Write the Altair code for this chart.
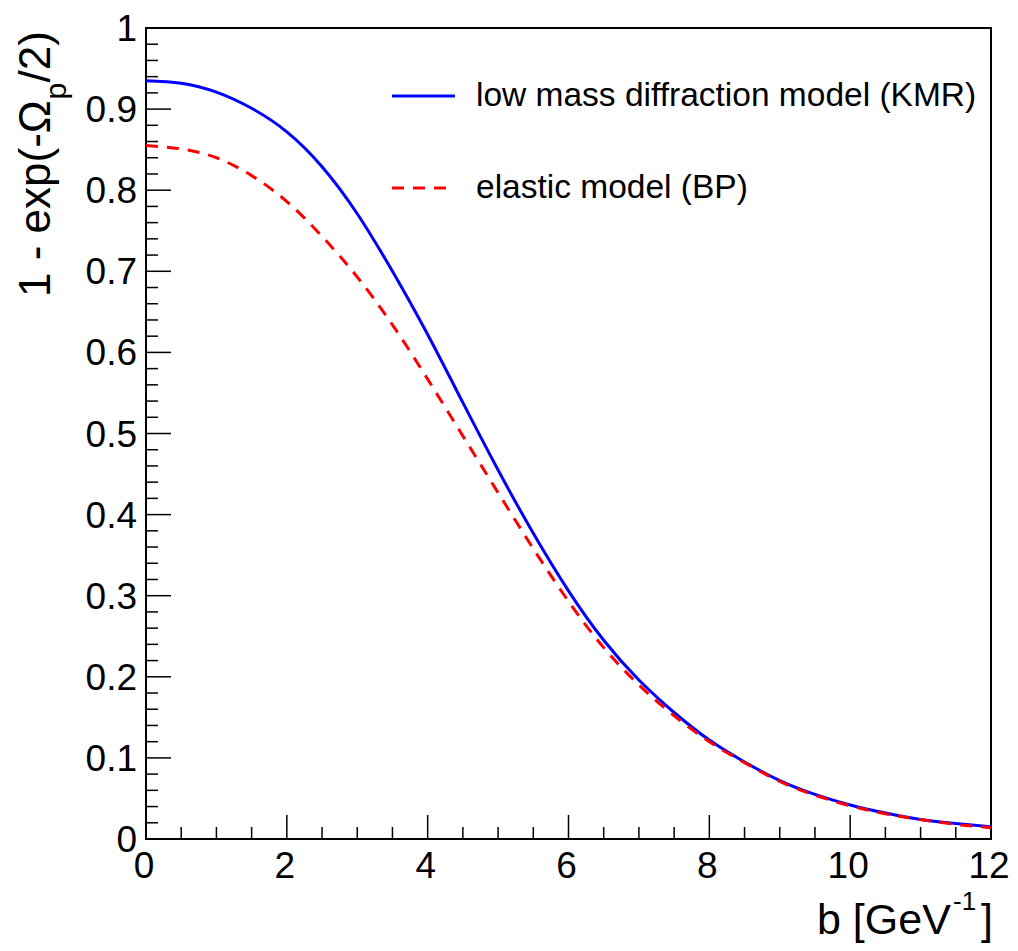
import altair as alt
import pandas as pd

# ---- data ----
b_vals = [0, 0.5, 1, 1.5, 2, 2.5, 3, 3.5, 4, 4.5, 5, 5.5, 6, 6.5, 7, 7.5, 8,
          8.5, 9, 9.5, 10, 10.5, 11, 11.5, 12]
kmr = [0.935, 0.932, 0.921, 0.901, 0.872, 0.829, 0.771, 0.700, 0.622, 0.538,
       0.455, 0.377, 0.306, 0.245, 0.196, 0.156, 0.122, 0.095, 0.072, 0.055,
       0.042, 0.032, 0.024, 0.019, 0.015]
bp = [0.855, 0.851, 0.840, 0.818, 0.786, 0.743, 0.693, 0.634, 0.567, 0.497,
      0.427, 0.358, 0.293, 0.236, 0.190, 0.152, 0.120, 0.094, 0.071, 0.054,
      0.041, 0.031, 0.024, 0.018, 0.014]

x_major = [0, 2, 4, 6, 8, 10, 12]
x_major_labels = ["0", "2", "4", "6", "8", "10", "12"]
x_minor = [0.5, 1, 1.5, 2.5, 3, 3.5, 4.5, 5, 5.5, 6.5, 7, 7.5, 8.5, 9, 9.5,
           10.5, 11, 11.5]
y_major = [0, 0.1, 0.2, 0.3, 0.4, 0.5, 0.6, 0.7, 0.8, 0.9, 1]
y_major_labels = ["0", "0.1", "0.2", "0.3", "0.4", "0.5", "0.6", "0.7",
                  "0.8", "0.9", "1"]
y_minor = [round(0.02 * i, 2) for i in range(1, 50) if i % 5 != 0]

legend_labels = ["low mass diffraction model (KMR)", "elastic model (BP)"]

W, H = 845, 811
FONT = "Liberation Sans"
LBL = 37

xs = alt.Scale(domain=[0, 12], nice=False, zero=False)
ys = alt.Scale(domain=[0, 1], nice=False, zero=False)

df_kmr = pd.DataFrame({"b": b_vals, "v": kmr})
df_bp = pd.DataFrame({"b": b_vals, "v": bp})

line_kmr = alt.Chart(df_kmr).mark_line(
    color="#0000ff", strokeWidth=3, interpolate="natural"
).encode(
    x=alt.X("b:Q", scale=xs, axis=None),
    y=alt.Y("v:Q", scale=ys, axis=None),
)
line_bp = alt.Chart(df_bp).mark_line(
    color="#ff0000", strokeWidth=3, strokeDash=[12, 9], interpolate="natural"
).encode(
    x=alt.X("b:Q", scale=xs, axis=None),
    y=alt.Y("v:Q", scale=ys, axis=None),
)

def xticks(vals, length):
    return alt.Chart(pd.DataFrame({"t": vals})).mark_rule(
        color="black", strokeWidth=1.5
    ).encode(
        x=alt.X("t:Q", scale=xs, axis=None),
        y=alt.value(H), y2=alt.value(H - length),
    )

def yticks(vals, length):
    return alt.Chart(pd.DataFrame({"t": vals})).mark_rule(
        color="black", strokeWidth=1.5
    ).encode(
        y=alt.Y("t:Q", scale=ys, axis=None),
        x=alt.value(0), x2=alt.value(length),
    )

ticks = [xticks(x_major, 24), xticks(x_minor, 12),
         yticks(y_major, 25), yticks(y_minor, 12)]

# tick labels placed through the scales
x_lbl = alt.Chart(pd.DataFrame({"t": x_major, "s": x_major_labels})).mark_text(
    fontSize=LBL, font=FONT, color="black", align="center",
    baseline="alphabetic", dx=-2
).encode(
    x=alt.X("t:Q", scale=xs, axis=None), y=alt.value(H + 39), text="s:N")
y_lbl = alt.Chart(pd.DataFrame({"t": y_major, "s": y_major_labels})).mark_text(
    fontSize=LBL, font=FONT, color="black", align="right",
    baseline="alphabetic", dy=13
).encode(
    y=alt.Y("t:Q", scale=ys, axis=None), x=alt.value(-9), text="s:N")

def txt(text, x, y, size, angle=0, align="left", baseline="alphabetic"):
    kw = dict(text=text, fontSize=size, font=FONT, color="black",
              align=align, baseline=baseline)
    if angle:
        kw["angle"] = angle
    return alt.Chart(pd.DataFrame({"a": [0]})).mark_text(**kw).encode(
        x=alt.value(x), y=alt.value(y))

# axis titles (plot-area relative pixel positions)
ox, oy = 146, 28
titles = [
    txt("1 - exp(-\u03a9", 50 - ox, 297 - oy, 44, angle=270),
    txt("p", 66 - ox, 99.5 - oy, 30, angle=270),
    txt("/2)", 50 - ox, 82.5 - oy, 44, angle=270),
    txt("b [GeV", 817 - ox, 934 - oy, 43),
    txt("-1", 953 - ox, 910 - oy, 26),
    txt("]", 993 - ox, 934 - oy, 43, align="right"),
]

# legend
def leg_line(y, color, dash=None):
    kw = dict(color=color, strokeWidth=3)
    if dash:
        kw["strokeDash"] = dash
    return alt.Chart(pd.DataFrame({"a": [0]})).mark_rule(**kw).encode(
        x=alt.value(392 - ox), x2=alt.value(455 - ox), y=alt.value(y - oy))

legend = [
    leg_line(96, "#0000ff"),
    txt(legend_labels[0], 476 - ox, 96 - oy, 33.5, baseline="middle"),
    leg_line(188, "#ff0000", [12, 9]),
    txt(legend_labels[1], 476 - ox, 188 - oy, 33.5, baseline="middle"),
]

chart = alt.layer(
    *ticks, line_kmr, line_bp, x_lbl, y_lbl, *legend, *titles
).properties(
    width=W, height=H,
    autosize=alt.AutoSizeParams(type="none"),
    padding={"left": 138, "top": 20, "right": 19, "bottom": 104},
    background="white",
).configure_view(stroke="black", strokeWidth=2)

chart.save("out.html", embed_options={"renderer": "svg", "actions": False})
